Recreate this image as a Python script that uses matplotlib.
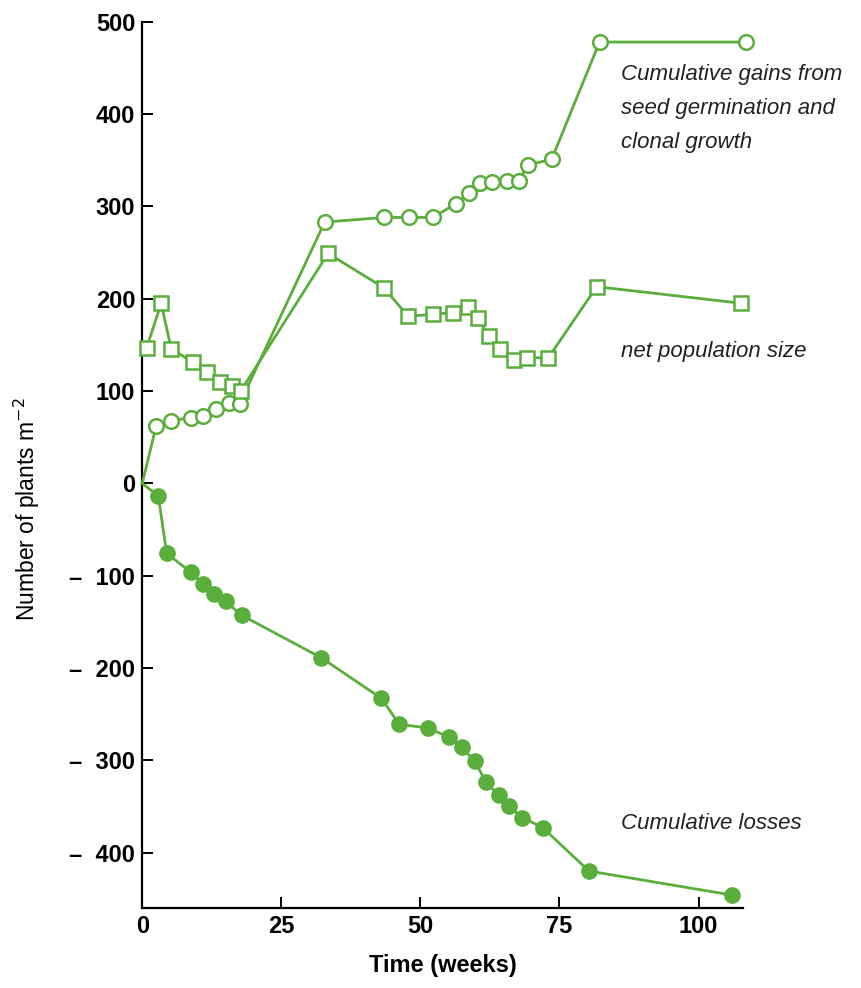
import numpy as np
import matplotlib
matplotlib.use("Agg")
import matplotlib.pyplot as plt

# cumulative gains (open circles)
gains_weeks = [0, 2.5, 5.1, 8.8, 11.0, 13.2, 15.6, 17.5, 32.8, 43.5, 48.0, 52.3, 56.4,
               58.8, 60.8, 62.8, 65.5, 67.7, 69.4, 73.6, 82.2, 108.6]
gains = [0, 62, 68, 71, 73, 80, 87, 86, 283, 288, 288, 288, 303,
         315, 325, 326, 328, 328, 345, 351, 478, 478]

# net population size (open squares)
net_weeks = [0.8, 3.4, 5.2, 9.1, 11.6, 13.9, 16.2, 17.7, 33.4, 43.4, 47.8, 52.3, 55.9,
             58.5, 60.3, 62.3, 64.4, 66.8, 69.2, 73.0, 81.7, 107.7]
net = [147, 195, 146, 131, 121, 110, 105, 100, 249, 212, 181, 183, 185,
       191, 179, 160, 146, 134, 136, 136, 213, 195]

# cumulative losses (filled circles)
loss_weeks = [0, 2.9, 4.4, 8.7, 10.9, 12.9, 15.0, 17.9, 32.2, 43.0, 46.2, 51.3, 55.2,
              57.4, 59.8, 61.8, 64.1, 66.0, 68.3, 72.0, 80.3, 106.0]
losses = [0, -14, -76, -96, -109, -120, -128, -143, -189, -233, -261, -265, -275,
          -286, -301, -324, -338, -350, -362, -373, -420, -446]

yticks = [500, 400, 300, 200, 100, 0, -100, -200, -300, -400]
ytick_labels = ['500', '400', '300', '200', '100', '0',
                '–  100', '–  200', '–  300', '–  400']
xticks = [0, 25, 50, 75, 100]

green = '#5aae3c'

plt.rcParams['font.family'] = ['Liberation Sans', 'DejaVu Sans']

fig = plt.figure(figsize=(8.62, 9.88), dpi=100)
ax = fig.add_axes([0.165, 0.081, 0.697, 0.897])

ax.plot(loss_weeks, losses, color=green, lw=2, marker='o', ms=11,
        mfc=green, mec=green, markevery=list(range(1, len(losses))), clip_on=False, zorder=3)
ax.plot(gains_weeks, gains, color=green, lw=2, marker='o', ms=10.5,
        mfc='white', mec=green, mew=1.8, markevery=list(range(1, len(gains))), clip_on=False, zorder=3)
ax.plot(net_weeks, net, color=green, lw=2, marker='s', ms=10,
        mfc='white', mec=green, mew=1.8, clip_on=False, zorder=3)

ax.set_xlim(0, 108)
ax.set_ylim(-460, 500)
ax.spines['top'].set_visible(False)
ax.spines['right'].set_visible(False)
ax.spines['left'].set_linewidth(1.6)
ax.spines['bottom'].set_linewidth(1.6)

ax.set_yticks(yticks)
ax.set_yticklabels(ytick_labels)
ax.set_xticks(xticks)
ax.tick_params(direction='in', length=8, width=1.4, labelsize=17, pad=5)
for lab in ax.get_xticklabels() + ax.get_yticklabels():
    lab.set_fontweight('bold')

ax.set_xlabel('Time (weeks)', fontsize=17, fontweight='bold')
ax.set_ylabel('Number of plants m$^{-2}$', fontsize=16.5)
ax.xaxis.set_label_coords(0.5, -0.052)
ax.yaxis.set_label_coords(-0.166, 0.45)

txt = dict(fontsize=16, style='italic', color='#222222', ha='left', va='center')
ax.text(86, 406, 'Cumulative gains from\nseed germination and\nclonal growth',
        linespacing=1.8, clip_on=False, **txt)
ax.text(86, 143, 'net population size', clip_on=False, **txt)
ax.text(86, -369, 'Cumulative losses', clip_on=False, **txt)

fig.savefig('out.png', dpi=100, facecolor='white')
